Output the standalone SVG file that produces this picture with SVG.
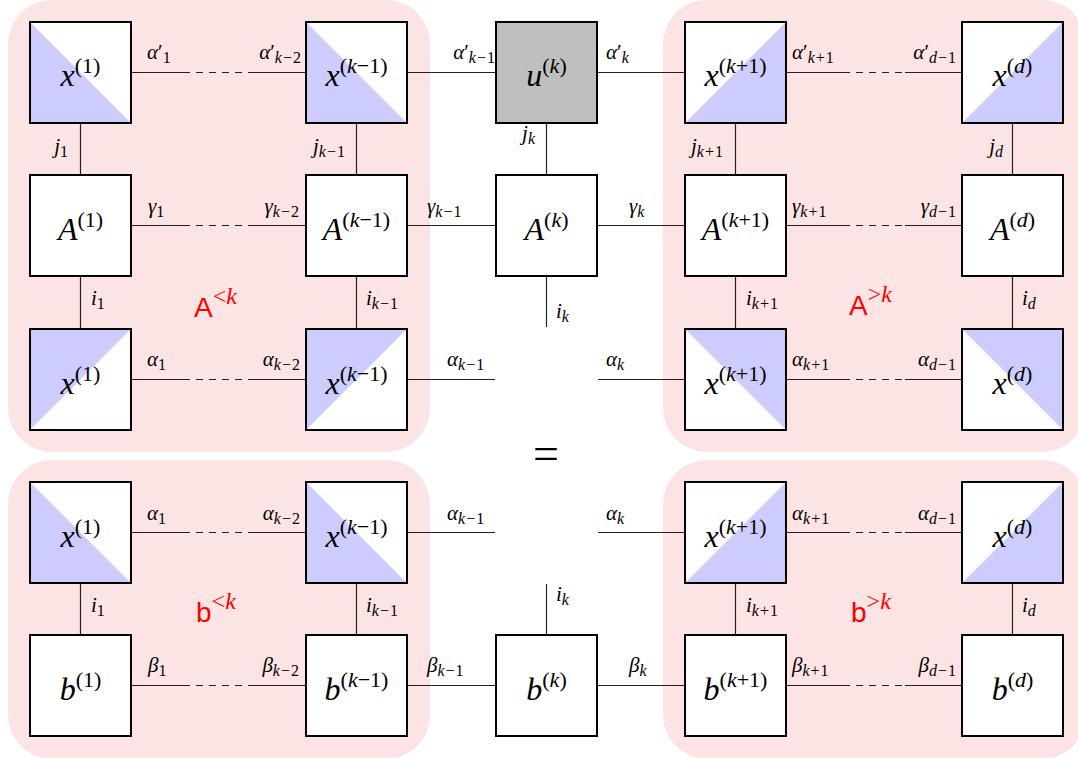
<svg xmlns="http://www.w3.org/2000/svg" width="1078" height="758" viewBox="0 0 1078 758">
<style>
.bg{fill:#fde4e4}
.bx{stroke:#000;stroke-width:2;fill:#fff}
.u{stroke:#000;stroke-width:2;fill:#bfbfbf}
.bl{fill:#ccccff}
.ln{stroke:#222;stroke-width:1.2;fill:none}
.ds{stroke:#222;stroke-width:1.2;fill:none;stroke-dasharray:7 6}
.m{font-family:"Liberation Serif","Times New Roman",serif;fill:#000}
.v{font-style:italic}
.nl{font-size:32px;text-anchor:middle}
.sp{font-size:22px}
.el{font-size:21px}
.sb{font-size:16px;letter-spacing:1px}
.e{text-anchor:end}
.red{font-family:"Liberation Sans",sans-serif;font-size:28px;fill:#f00}
.rs{font-family:"Liberation Serif",serif;font-size:24px;fill:#f00}
</style>
<g id="backgrounds">
<rect class="bg" x="8" y="0" width="422" height="452" rx="44"/>
<rect class="bg" x="663" y="0" width="423" height="452" rx="44"/>
<rect class="bg" x="8" y="460" width="422" height="299" rx="44"/>
<rect class="bg" x="663" y="460" width="423" height="299" rx="44"/>
</g>
<g id="connectors">
<path class="ln" d="M131,72.5H190M248,72.5H306M407,72.5H496M597,72.5H685M786,72.5H850M905,72.5H962"/>
<path class="ds" d="M196,72.5H242M856,72.5H902"/>
<path class="ln" d="M131,225.5H190M248,225.5H306M407,225.5H496M597,225.5H685M786,225.5H850M905,225.5H962"/>
<path class="ds" d="M196,225.5H242M856,225.5H902"/>
<path class="ln" d="M131,379.5H190M248,379.5H306M407,379.5H495M598,379.5H685M786,379.5H850M905,379.5H962"/>
<path class="ds" d="M196,379.5H242M856,379.5H902"/>
<path class="ln" d="M131,532.5H190M248,532.5H306M407,532.5H495M598,532.5H685M786,532.5H850M905,532.5H962"/>
<path class="ds" d="M196,532.5H242M856,532.5H902"/>
<path class="ln" d="M131,685.5H190M248,685.5H306M407,685.5H496M597,685.5H685M786,685.5H850M905,685.5H962"/>
<path class="ds" d="M196,685.5H242M856,685.5H902"/>
<path class="ln" d="M80.5,123V175M356.5,123V175M546.5,123V175M735.5,123V175M1012.5,123V175"/>
<path class="ln" d="M80.5,276V329M356.5,276V329M546.5,276V327M735.5,276V329M1012.5,276V329"/>
<path class="ln" d="M80.5,583V635M356.5,583V635M546.5,584V635M735.5,583V635M1012.5,583V635"/>
</g>
<g id="edge-labels" class="m el">
<text x="147" y="59"><tspan class="v">α</tspan>′<tspan class="sb" dy="4">1</tspan></text>
<text class="e" x="302" y="59"><tspan class="v">α</tspan>′<tspan class="sb" dy="4"><tspan class="v">k</tspan>−2</tspan></text>
<text class="e" x="496" y="59"><tspan class="v">α</tspan>′<tspan class="sb" dy="4"><tspan class="v">k</tspan>−1</tspan></text>
<text x="606" y="59"><tspan class="v">α</tspan>′<tspan class="sb v" dy="4">k</tspan></text>
<text x="792" y="59"><tspan class="v">α</tspan>′<tspan class="sb" dy="4"><tspan class="v">k</tspan>+1</tspan></text>
<text class="e" x="957" y="59"><tspan class="v">α</tspan>′<tspan class="sb" dy="4"><tspan class="v">d</tspan>−1</tspan></text>

<text x="148" y="213"><tspan class="v">γ</tspan><tspan class="sb" dy="4">1</tspan></text>
<text class="e" x="300" y="213"><tspan class="v">γ</tspan><tspan class="sb" dy="4"><tspan class="v">k</tspan>−2</tspan></text>
<text x="427" y="213"><tspan class="v">γ</tspan><tspan class="sb" dy="4"><tspan class="v">k</tspan>−1</tspan></text>
<text x="629" y="213"><tspan class="v">γ</tspan><tspan class="sb v" dy="4">k</tspan></text>
<text x="792" y="213"><tspan class="v">γ</tspan><tspan class="sb" dy="4"><tspan class="v">k</tspan>+1</tspan></text>
<text class="e" x="957" y="213"><tspan class="v">γ</tspan><tspan class="sb" dy="4"><tspan class="v">d</tspan>−1</tspan></text>

<text x="147" y="366"><tspan class="v">α</tspan><tspan class="sb" dy="4">1</tspan></text>
<text class="e" x="301" y="366"><tspan class="v">α</tspan><tspan class="sb" dy="4"><tspan class="v">k</tspan>−2</tspan></text>
<text x="447" y="366"><tspan class="v">α</tspan><tspan class="sb" dy="4"><tspan class="v">k</tspan>−1</tspan></text>
<text x="606" y="366"><tspan class="v">α</tspan><tspan class="sb v" dy="4">k</tspan></text>
<text x="792" y="366"><tspan class="v">α</tspan><tspan class="sb" dy="4"><tspan class="v">k</tspan>+1</tspan></text>
<text class="e" x="957" y="366"><tspan class="v">α</tspan><tspan class="sb" dy="4"><tspan class="v">d</tspan>−1</tspan></text>

<text x="147" y="520"><tspan class="v">α</tspan><tspan class="sb" dy="4">1</tspan></text>
<text class="e" x="301" y="520"><tspan class="v">α</tspan><tspan class="sb" dy="4"><tspan class="v">k</tspan>−2</tspan></text>
<text x="447" y="520"><tspan class="v">α</tspan><tspan class="sb" dy="4"><tspan class="v">k</tspan>−1</tspan></text>
<text x="606" y="520"><tspan class="v">α</tspan><tspan class="sb v" dy="4">k</tspan></text>
<text x="792" y="520"><tspan class="v">α</tspan><tspan class="sb" dy="4"><tspan class="v">k</tspan>+1</tspan></text>
<text class="e" x="957" y="520"><tspan class="v">α</tspan><tspan class="sb" dy="4"><tspan class="v">d</tspan>−1</tspan></text>

<text x="148" y="672"><tspan class="v">β</tspan><tspan class="sb" dy="4">1</tspan></text>
<text class="e" x="300" y="672"><tspan class="v">β</tspan><tspan class="sb" dy="4"><tspan class="v">k</tspan>−2</tspan></text>
<text x="427" y="672"><tspan class="v">β</tspan><tspan class="sb" dy="4"><tspan class="v">k</tspan>−1</tspan></text>
<text x="629" y="672"><tspan class="v">β</tspan><tspan class="sb v" dy="4">k</tspan></text>
<text x="792" y="672"><tspan class="v">β</tspan><tspan class="sb" dy="4"><tspan class="v">k</tspan>+1</tspan></text>
<text class="e" x="957" y="672"><tspan class="v">β</tspan><tspan class="sb" dy="4"><tspan class="v">d</tspan>−1</tspan></text>

<text class="e" x="69" y="153"><tspan class="v">j</tspan><tspan class="sb" dy="4">1</tspan></text>
<text class="e" x="346" y="153"><tspan class="v">j</tspan><tspan class="sb" dy="4"><tspan class="v">k</tspan>−1</tspan></text>
<text class="e" x="536" y="140"><tspan class="v">j</tspan><tspan class="sb v" dy="4">k</tspan></text>
<text class="e" x="724" y="153"><tspan class="v">j</tspan><tspan class="sb" dy="4"><tspan class="v">k</tspan>+1</tspan></text>
<text class="e" x="1004" y="153"><tspan class="v">j</tspan><tspan class="sb v" dy="4">d</tspan></text>

<text x="91" y="305"><tspan class="v">i</tspan><tspan class="sb" dy="4">1</tspan></text>
<text x="366" y="305"><tspan class="v">i</tspan><tspan class="sb" dy="4"><tspan class="v">k</tspan>−1</tspan></text>
<text x="556" y="318"><tspan class="v">i</tspan><tspan class="sb v" dy="4">k</tspan></text>
<text x="746" y="305"><tspan class="v">i</tspan><tspan class="sb" dy="4"><tspan class="v">k</tspan>+1</tspan></text>
<text x="1022" y="305"><tspan class="v">i</tspan><tspan class="sb v" dy="4">d</tspan></text>

<text x="91" y="612"><tspan class="v">i</tspan><tspan class="sb" dy="4">1</tspan></text>
<text x="366" y="612"><tspan class="v">i</tspan><tspan class="sb" dy="4"><tspan class="v">k</tspan>−1</tspan></text>
<text x="556" y="601"><tspan class="v">i</tspan><tspan class="sb v" dy="4">k</tspan></text>
<text x="746" y="612"><tspan class="v">i</tspan><tspan class="sb" dy="4"><tspan class="v">k</tspan>+1</tspan></text>
<text x="1022" y="612"><tspan class="v">i</tspan><tspan class="sb v" dy="4">d</tspan></text>
</g>
<g id="group-labels">
<text class="red" x="194" y="317">A<tspan class="rs" dy="-13">&lt;<tspan class="v">k</tspan></tspan></text>
<text class="red" x="849" y="315">A<tspan class="rs" dy="-13">&gt;<tspan class="v">k</tspan></tspan></text>
<text class="red" x="196" y="622">b<tspan class="rs" dy="-13">&lt;<tspan class="v">k</tspan></tspan></text>
<text class="red" x="851" y="622">b<tspan class="rs" dy="-13">&gt;<tspan class="v">k</tspan></tspan></text>
<text class="m" x="546" y="469" font-size="46" text-anchor="middle">=</text>
</g>
<g id="n-x1-top"><rect class="bx" x="30" y="22" width="101" height="101"/><polygon class="bl" points="31,23 31,122 130,122"/><text class="m nl" x="80.5" y="86"><tspan class="v">x</tspan><tspan class="sp" dy="-13">(1)</tspan></text></g>
<g id="n-xk1-top"><rect class="bx" x="306" y="22" width="101" height="101"/><polygon class="bl" points="307,23 307,122 406,122"/><text class="m nl" x="356.5" y="86"><tspan class="v">x</tspan><tspan class="sp" dy="-13">(<tspan class="v">k</tspan>−1)</tspan></text></g>
<g id="n-u"><rect class="u" x="496" y="22" width="101" height="101"/><text class="m nl" x="546.5" y="86"><tspan class="v">u</tspan><tspan class="sp" dy="-13">(<tspan class="v">k</tspan>)</tspan></text></g>
<g id="n-xkp1-top"><rect class="bx" x="685" y="22" width="101" height="101"/><polygon class="bl" points="785,23 785,122 686,122"/><text class="m nl" x="735.5" y="86"><tspan class="v">x</tspan><tspan class="sp" dy="-13">(<tspan class="v">k</tspan>+1)</tspan></text></g>
<g id="n-xd-top"><rect class="bx" x="962" y="22" width="101" height="101"/><polygon class="bl" points="1062,23 1062,122 963,122"/><text class="m nl" x="1012.5" y="86"><tspan class="v">x</tspan><tspan class="sp" dy="-13">(<tspan class="v">d</tspan>)</tspan></text></g>

<g id="n-A1"><rect class="bx" x="30" y="175" width="101" height="101"/><text class="m nl" x="80.5" y="239.5"><tspan class="v">A</tspan><tspan class="sp" dy="-13">(1)</tspan></text></g>
<g id="n-Ak1"><rect class="bx" x="306" y="175" width="101" height="101"/><text class="m nl" x="356.5" y="239.5"><tspan class="v">A</tspan><tspan class="sp" dy="-13">(<tspan class="v">k</tspan>−1)</tspan></text></g>
<g id="n-Ak"><rect class="bx" x="496" y="175" width="101" height="101"/><text class="m nl" x="546.5" y="239.5"><tspan class="v">A</tspan><tspan class="sp" dy="-13">(<tspan class="v">k</tspan>)</tspan></text></g>
<g id="n-Akp1"><rect class="bx" x="685" y="175" width="101" height="101"/><text class="m nl" x="735.5" y="239.5"><tspan class="v">A</tspan><tspan class="sp" dy="-13">(<tspan class="v">k</tspan>+1)</tspan></text></g>
<g id="n-Ad"><rect class="bx" x="962" y="175" width="101" height="101"/><text class="m nl" x="1012.5" y="239.5"><tspan class="v">A</tspan><tspan class="sp" dy="-13">(<tspan class="v">d</tspan>)</tspan></text></g>

<g id="n-x1-mid"><rect class="bx" x="30" y="329" width="101" height="101"/><polygon class="bl" points="31,330 130,330 31,429"/><text class="m nl" x="80.5" y="393.5"><tspan class="v">x</tspan><tspan class="sp" dy="-13">(1)</tspan></text></g>
<g id="n-xk1-mid"><rect class="bx" x="306" y="329" width="101" height="101"/><polygon class="bl" points="307,330 406,330 307,429"/><text class="m nl" x="356.5" y="393.5"><tspan class="v">x</tspan><tspan class="sp" dy="-13">(<tspan class="v">k</tspan>−1)</tspan></text></g>
<g id="n-xkp1-mid"><rect class="bx" x="685" y="329" width="101" height="101"/><polygon class="bl" points="686,330 785,330 785,429"/><text class="m nl" x="735.5" y="393.5"><tspan class="v">x</tspan><tspan class="sp" dy="-13">(<tspan class="v">k</tspan>+1)</tspan></text></g>
<g id="n-xd-mid"><rect class="bx" x="962" y="329" width="101" height="101"/><polygon class="bl" points="963,330 1062,330 1062,429"/><text class="m nl" x="1012.5" y="393.5"><tspan class="v">x</tspan><tspan class="sp" dy="-13">(<tspan class="v">d</tspan>)</tspan></text></g>

<g id="n-x1-b"><rect class="bx" x="30" y="482" width="101" height="101"/><polygon class="bl" points="31,483 31,582 130,582"/><text class="m nl" x="80.5" y="546.5"><tspan class="v">x</tspan><tspan class="sp" dy="-13">(1)</tspan></text></g>
<g id="n-xk1-b"><rect class="bx" x="306" y="482" width="101" height="101"/><polygon class="bl" points="307,483 307,582 406,582"/><text class="m nl" x="356.5" y="546.5"><tspan class="v">x</tspan><tspan class="sp" dy="-13">(<tspan class="v">k</tspan>−1)</tspan></text></g>
<g id="n-xkp1-b"><rect class="bx" x="685" y="482" width="101" height="101"/><polygon class="bl" points="785,483 785,582 686,582"/><text class="m nl" x="735.5" y="546.5"><tspan class="v">x</tspan><tspan class="sp" dy="-13">(<tspan class="v">k</tspan>+1)</tspan></text></g>
<g id="n-xd-b"><rect class="bx" x="962" y="482" width="101" height="101"/><polygon class="bl" points="1062,483 1062,582 963,582"/><text class="m nl" x="1012.5" y="546.5"><tspan class="v">x</tspan><tspan class="sp" dy="-13">(<tspan class="v">d</tspan>)</tspan></text></g>

<g id="n-b1"><rect class="bx" x="30" y="635" width="101" height="101"/><text class="m nl" x="80.5" y="699.5"><tspan class="v">b</tspan><tspan class="sp" dy="-13">(1)</tspan></text></g>
<g id="n-bk1"><rect class="bx" x="306" y="635" width="101" height="101"/><text class="m nl" x="356.5" y="699.5"><tspan class="v">b</tspan><tspan class="sp" dy="-13">(<tspan class="v">k</tspan>−1)</tspan></text></g>
<g id="n-bk"><rect class="bx" x="496" y="635" width="101" height="101"/><text class="m nl" x="546.5" y="699.5"><tspan class="v">b</tspan><tspan class="sp" dy="-13">(<tspan class="v">k</tspan>)</tspan></text></g>
<g id="n-bkp1"><rect class="bx" x="685" y="635" width="101" height="101"/><text class="m nl" x="735.5" y="699.5"><tspan class="v">b</tspan><tspan class="sp" dy="-13">(<tspan class="v">k</tspan>+1)</tspan></text></g>
<g id="n-bd"><rect class="bx" x="962" y="635" width="101" height="101"/><text class="m nl" x="1012.5" y="699.5"><tspan class="v">b</tspan><tspan class="sp" dy="-13">(<tspan class="v">d</tspan>)</tspan></text></g>
</svg>
